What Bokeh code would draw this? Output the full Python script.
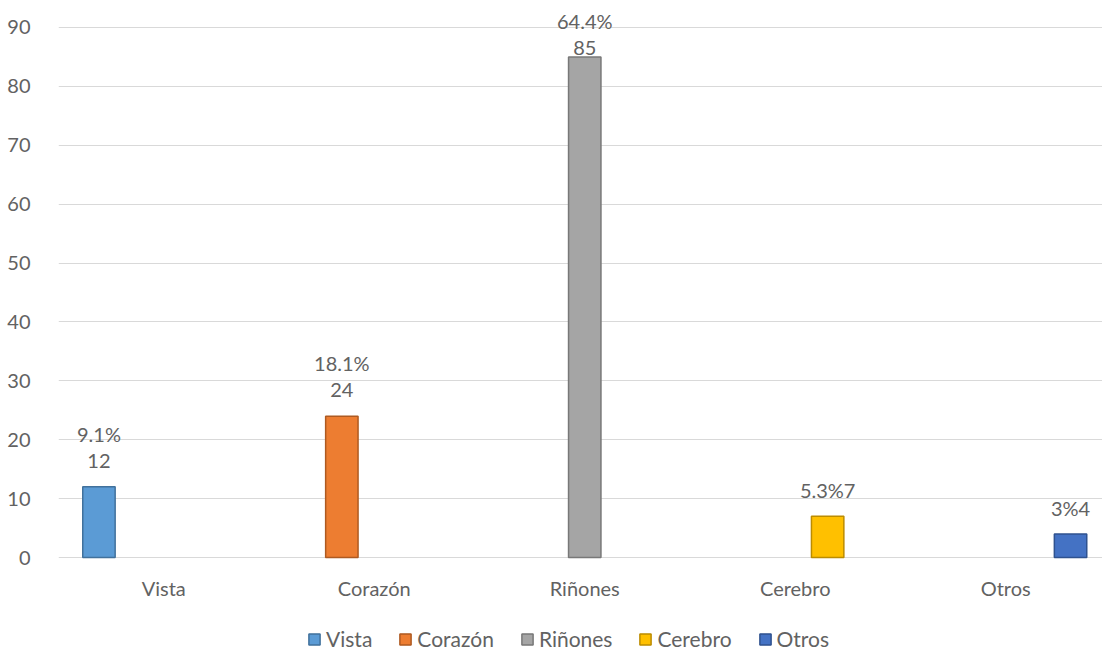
from bokeh.plotting import figure
from bokeh.models import (ColumnDataSource, LabelSet, Legend, LegendItem, FixedTicker, Range1d)
from bokeh.transform import dodge
from bokeh.core.properties import value
from bokeh.embed import file_html
from bokeh.resources import INLINE

categories = ["Vista", "Corazón", "Riñones", "Cerebro", "Otros"]
values = [12, 24, 85, 7, 4]
label_upper = ["9.1%", "18.1%", "64.4%", "", ""]
label_lower = ["12", "24", "85", "5.3%7", "3%4"]
y_ticks = [0, 10, 20, 30, 40, 50, 60, 70, 80, 90]

fill_colors = ["#5B9BD5", "#ED7D31", "#A5A5A5", "#FFC000", "#4472C4"]
line_colors = ["#41719C", "#AE5A21", "#787878", "#BC8C00", "#2F528F"]

FONT = "Lato"
TXT = "#626262"
FS = "20px"

W, H = 1102, 652
FRAME_L = 58
ZERO_Y = 557          # pixel row of the value 0
PX_PER_10 = 58.89
ppu = PX_PER_10 / 10
Y_END = ZERO_Y / ppu
Y_START = -(H - ZERO_Y) / ppu
n = len(categories)
cat_px = 210.5
x_end = (W - FRAME_L) / cat_px

p = figure(width=W, height=H, output_backend="svg", toolbar_location=None,
           x_range=Range1d(0, x_end), y_range=Range1d(Y_START, Y_END),
           min_border_left=FRAME_L, min_border_right=0, min_border_top=0,
           min_border_bottom=0)
p.outline_line_color = None
p.background_fill_color = "white"
p.border_fill_color = "white"

bar_w = 32.4 / cat_px
LO, UP = 26, 53

items = []
for j, (cat, v) in enumerate(zip(categories, values)):
    top_px = v * ppu
    shift = max(0.0, top_px + UP + 11 - (ZERO_Y - 9.5))
    src = ColumnDataSource(dict(
        xi=[categories.index(cat) + 0.5], val=[v],
        up=[label_upper[j]], lo=[label_lower[j]],
        up_off=[UP - shift], lo_off=[LO - shift]))
    off = (j - (n - 1) / 2) * bar_w
    r = p.vbar(x=dodge("xi", off, range=p.x_range), top="val", bottom=0, width=bar_w,
               source=src, fill_color=fill_colors[j], line_color=line_colors[j], line_width=1.5)
    items.append(LegendItem(label=cat, renderers=[r]))
    for col, offcol in (("lo", "lo_off"), ("up", "up_off")):
        ls = LabelSet(x=dodge("xi", off, range=p.x_range), y="val", text=col, source=src,
                      y_offset=offcol, text_align="center", text_baseline="middle",
                      text_font=value(FONT), text_font_size=value(FS), text_color=TXT)
        p.add_layout(ls)

# category labels under the baseline
cat_src = ColumnDataSource(dict(x=[i + 0.5 for i in range(n)], y=[0] * n, t=categories))
p.add_layout(LabelSet(x="x", y="y", text="t", source=cat_src, y_offset=-30,
                      text_align="center", text_baseline="middle",
                      text_font=value(FONT), text_font_size=value(FS), text_color=TXT))

p.xaxis.visible = False
p.xgrid.grid_line_color = None
p.ygrid.grid_line_color = "#D9D9D9"
p.ygrid.grid_line_width = 1
p.yaxis.ticker = FixedTicker(ticks=y_ticks)
p.yaxis.axis_line_color = None
p.yaxis.major_tick_line_color = None
p.yaxis.minor_tick_line_color = None
p.yaxis.major_label_text_font = FONT
p.yaxis.major_label_text_font_size = FS
p.yaxis.major_label_text_color = TXT
p.yaxis.major_label_standoff = 22

legend = Legend(items=items, orientation="horizontal", location=(249, 1),
                label_text_font=FONT, label_text_font_size="21px", label_text_color=TXT,
                glyph_width=14, glyph_height=14, label_standoff=5, spacing=26,
                border_line_color=None, background_fill_alpha=0,
                margin=0, padding=2)
p.add_layout(legend, "center")

open("out.html", "w").write(file_html(p, INLINE))
